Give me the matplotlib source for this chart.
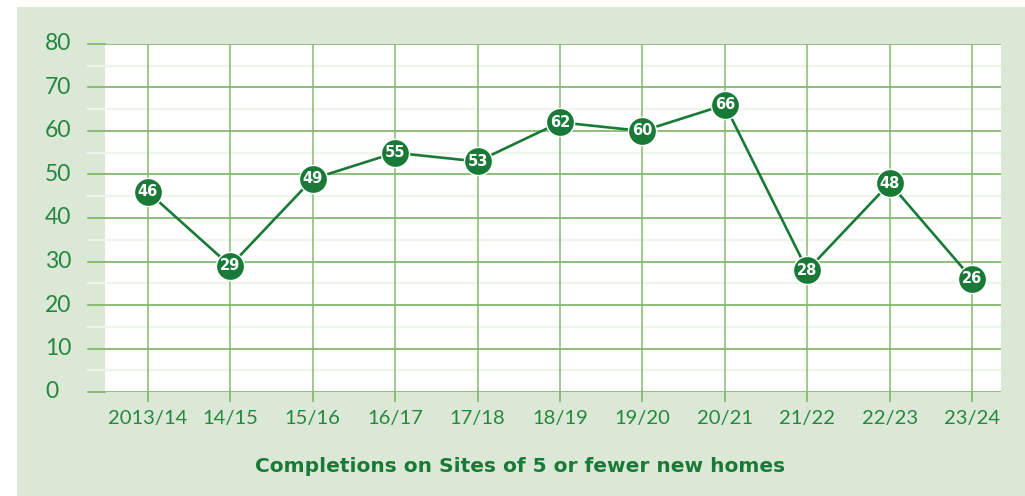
import matplotlib
matplotlib.use("Agg")
import matplotlib.pyplot as plt
from matplotlib.patches import Rectangle
from matplotlib.transforms import blended_transform_factory

years = ["2013/14", "14/15", "15/16", "16/17", "17/18", "18/19",
         "19/20", "20/21", "21/22", "22/23", "23/24"]
completions = [46, 29, 49, 55, 53, 62, 60, 66, 28, 48, 26]
y_ticks = [0, 10, 20, 30, 40, 50, 60, 70, 80]

PANEL = "#dbe8d5"
GRID = "#86b972"
GRID_MINOR = "#edf4ea"
DARK = "#197a37"
TEXT = "#25873f"

plt.rcParams["font.family"] = ["Lato", "DejaVu Sans"]

fig = plt.figure(figsize=(10.25, 4.96), dpi=100)
fig.patch.set_facecolor("white")
fig.patches.append(Rectangle((17 / 1025, 0), 1 - 17 / 1025, 1 - 7 / 496,
                             transform=fig.transFigure, facecolor=PANEL,
                             edgecolor="none", zorder=-10))

ax = fig.add_axes([105 / 1025, 1 - 392 / 496, 896 / 1025, 348 / 496])
ax.set_facecolor("white")
x = list(range(len(years)))

ax.set_xlim(-0.52, 10.35)
ax.set_ylim(0, 80)
for s in ax.spines.values():
    s.set_visible(False)

# gridlines: tens in mid green, fives very pale
for v in range(5, 80, 10):
    ax.axhline(v, color=GRID_MINOR, lw=1.6, zorder=0)
for v in y_ticks:
    ax.axhline(v, color=GRID, lw=1.3, zorder=1)
    ax.plot([-0.52 - 17 / 82.4, -0.52], [v, v], color=GRID, lw=1.3,
            clip_on=False, zorder=1)
for v in range(5, 80, 10):
    ax.plot([-0.52 - 17 / 82.4, -0.52], [v, v], color=GRID_MINOR, lw=1.6,
            clip_on=False, zorder=0)
for xi in x:
    ax.axvline(xi, color=GRID, lw=1.1, zorder=1)

ax.set_yticks([])
ax.set_xticks(x)
ax.set_xticklabels(years, fontsize=14.5, color=TEXT)
ax.tick_params(axis="x", length=7.2, width=1.3, color=GRID, pad=6)

trans = blended_transform_factory(fig.transFigure, ax.transData)
for v in y_ticks:
    ax.text(45 / 1025, v, str(v), transform=trans, ha="left", va="center",
            fontsize=16.5, color=TEXT)

ax.plot(x, completions, color=DARK, lw=1.9, zorder=3)
ax.scatter(x, completions, s=410, color=DARK, edgecolors="white",
           linewidths=1.0, zorder=4)
for xi, v in zip(x, completions):
    ax.text(xi, v, str(v), ha="center", va="center", color="white",
            fontsize=10.5, fontweight="bold", family="DejaVu Sans", zorder=5)

fig.text(520 / 1025, 1 - 467 / 496, "Completions on Sites of 5 or fewer new homes",
         ha="center", va="center", fontsize=14.5, fontweight="bold",
         family="DejaVu Sans", color=DARK)

fig.savefig("out.png", dpi=100, facecolor=fig.get_facecolor())
